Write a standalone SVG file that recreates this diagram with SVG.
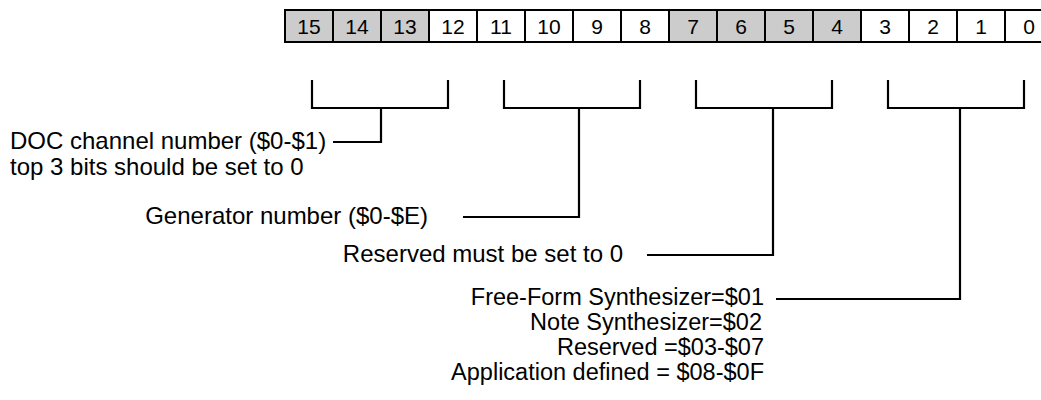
<svg xmlns="http://www.w3.org/2000/svg" width="1041" height="400" viewBox="0 0 1041 400">
<style>
.cell{stroke:#000;stroke-width:2}
.g{fill:#cccccc}
.w{fill:#ffffff}
.num{font-family:"Liberation Sans",Arial,sans-serif;font-size:21px;fill:#000;text-anchor:middle}
.lbl{font-family:"Liberation Sans",Arial,sans-serif;font-size:24px;fill:#000}
.sm{font-size:23.5px}
.end{text-anchor:end}
.ln{fill:none;stroke:#000;stroke-width:2.2}
</style>
<rect width="1041" height="400" fill="#fff"/>
<g id="register">
<rect class="cell g" x="285" y="10" width="48" height="32"/>
<rect class="cell g" x="333" y="10" width="48" height="32"/>
<rect class="cell g" x="381" y="10" width="48" height="32"/>
<rect class="cell w" x="429" y="10" width="48" height="32"/>
<rect class="cell w" x="477" y="10" width="48" height="32"/>
<rect class="cell w" x="525" y="10" width="48" height="32"/>
<rect class="cell w" x="573" y="10" width="48" height="32"/>
<rect class="cell w" x="621" y="10" width="48" height="32"/>
<rect class="cell g" x="669" y="10" width="48" height="32"/>
<rect class="cell g" x="717" y="10" width="48" height="32"/>
<rect class="cell g" x="765" y="10" width="48" height="32"/>
<rect class="cell g" x="813" y="10" width="48" height="32"/>
<rect class="cell w" x="861" y="10" width="48" height="32"/>
<rect class="cell w" x="909" y="10" width="48" height="32"/>
<rect class="cell w" x="957" y="10" width="48" height="32"/>
<rect class="cell w" x="1005" y="10" width="48" height="32"/>
<text class="num" x="309" y="34">15</text>
<text class="num" x="357" y="34">14</text>
<text class="num" x="405" y="34">13</text>
<text class="num" x="453" y="34">12</text>
<text class="num" x="501" y="34">11</text>
<text class="num" x="549" y="34">10</text>
<text class="num" x="597" y="34">9</text>
<text class="num" x="645" y="34">8</text>
<text class="num" x="693" y="34">7</text>
<text class="num" x="741" y="34">6</text>
<text class="num" x="789" y="34">5</text>
<text class="num" x="837" y="34">4</text>
<text class="num" x="885" y="34">3</text>
<text class="num" x="933" y="34">2</text>
<text class="num" x="981" y="34">1</text>
<text class="num" x="1029" y="34">0</text>
</g>
<g id="connectors">
<path class="ln" d="M312 80 V108 H448 V80 M381 108 V142 H333"/>
<path class="ln" d="M504 80 V108 H640 V80 M579 108 V217 H463"/>
<path class="ln" d="M696 80 V108 H832 V80 M773 108 V255 H647"/>
<path class="ln" d="M888 80 V108 H1024 V80 M960 108 V299 H776"/>
</g>
<g id="label-doc">
<text class="lbl" x="10" y="149">DOC channel number ($0-$1)</text>
<text class="lbl" x="10" y="175">top 3 bits should be set to 0</text>
</g>
<g id="label-generator">
<text class="lbl end" x="428" y="224">Generator number ($0-$E)</text>
</g>
<g id="label-reserved">
<text class="lbl end" x="623" y="262">Reserved must be set to 0</text>
</g>
<g id="label-synth">
<text class="lbl sm end" x="764" y="305">Free-Form Synthesizer=$01</text>
<text class="lbl sm end" x="762" y="330">Note Synthesizer=$02</text>
<text class="lbl sm end" x="764" y="355">Reserved =$03-$07</text>
<text class="lbl sm end" x="764" y="380">Application defined = $08-$0F</text>
</g>
</svg>
